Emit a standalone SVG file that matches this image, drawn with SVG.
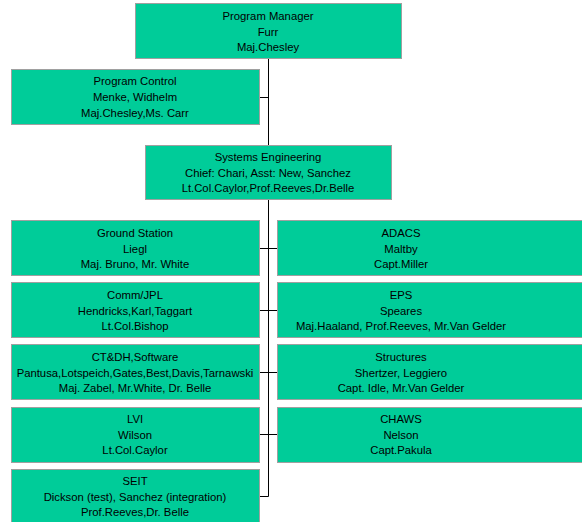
<svg xmlns="http://www.w3.org/2000/svg" width="582" height="522" viewBox="0 0 582 522">
<style>
.box{fill:#00cc99;stroke:#a0a0a0;stroke-width:1}
.t{font-family:"Liberation Sans",Arial,sans-serif;font-size:11.3px;fill:#000;text-anchor:middle}
.c{stroke:#000;stroke-width:1;fill:none}
</style>
<rect width="582" height="522" fill="#fff"/>
<g id="connectors">
<path class="c" d="M268.5 58V145M268.5 200V496.5H259M259 97.5H268.5M259 248.5H277M259 310.5H277M259 372.5H277M259 434.5H277"/>
</g>
<g id="program-manager">
<rect class="box" x="135.5" y="3.5" width="266" height="55"/>
<text class="t" x="268" y="20">Program Manager</text>
<text class="t" x="268" y="35.5">Furr</text>
<text class="t" x="268" y="51">Maj.Chesley</text>
</g>
<g id="program-control">
<rect class="box" x="11.5" y="69.5" width="248" height="55"/>
<text class="t" x="135" y="85">Program Control</text>
<text class="t" x="135" y="101">Menke, Widhelm</text>
<text class="t" x="135" y="117">Maj.Chesley,Ms. Carr</text>
</g>
<g id="systems-engineering">
<rect class="box" x="145.5" y="145.5" width="246" height="54"/>
<text class="t" x="268" y="161">Systems Engineering</text>
<text class="t" x="268" y="176.5">Chief: Chari, Asst: New, Sanchez</text>
<text class="t" x="268" y="192">Lt.Col.Caylor,Prof.Reeves,Dr.Belle</text>
</g>
<g id="ground-station">
<rect class="box" x="11.5" y="220.5" width="248" height="55"/>
<text class="t" x="135" y="237">Ground Station</text>
<text class="t" x="135" y="252.5">Liegl</text>
<text class="t" x="135" y="268">Maj. Bruno, Mr. White</text>
</g>
<g id="comm-jpl">
<rect class="box" x="11.5" y="282.5" width="248" height="55"/>
<text class="t" x="135" y="299">Comm/JPL</text>
<text class="t" x="135" y="314.5">Hendricks,Karl,Taggart</text>
<text class="t" x="135" y="330">Lt.Col.Bishop</text>
</g>
<g id="ctdh">
<rect class="box" x="11.5" y="344.5" width="248" height="55"/>
<text class="t" x="135" y="361">CT&amp;DH,Software</text>
<text class="t" x="135" y="376.5">Pantusa,Lotspeich,Gates,Best,Davis,Tarnawski</text>
<text class="t" x="135" y="392">Maj. Zabel, Mr.White, Dr. Belle</text>
</g>
<g id="lvi">
<rect class="box" x="11.5" y="407.5" width="248" height="55"/>
<text class="t" x="135" y="423">LVI</text>
<text class="t" x="135" y="438.5">Wilson</text>
<text class="t" x="135" y="454">Lt.Col.Caylor</text>
</g>
<g id="seit">
<rect class="box" x="11.5" y="469.5" width="248" height="60"/>
<text class="t" x="135" y="485">SEIT</text>
<text class="t" x="135" y="500.5">Dickson (test), Sanchez (integration)</text>
<text class="t" x="135" y="516">Prof.Reeves,Dr. Belle</text>
</g>
<g id="adacs">
<rect class="box" x="277.5" y="220.5" width="310" height="55"/>
<text class="t" x="401" y="237">ADACS</text>
<text class="t" x="401" y="252.5">Maltby</text>
<text class="t" x="401" y="268">Capt.Miller</text>
</g>
<g id="eps">
<rect class="box" x="277.5" y="282.5" width="310" height="55"/>
<text class="t" x="401" y="299">EPS</text>
<text class="t" x="401" y="314.5">Speares</text>
<text class="t" x="401" y="330">Maj.Haaland, Prof.Reeves, Mr.Van Gelder</text>
</g>
<g id="structures">
<rect class="box" x="277.5" y="344.5" width="310" height="55"/>
<text class="t" x="401" y="361">Structures</text>
<text class="t" x="401" y="376.5">Shertzer, Leggiero</text>
<text class="t" x="401" y="392">Capt. Idle, Mr.Van Gelder</text>
</g>
<g id="chaws">
<rect class="box" x="277.5" y="407.5" width="310" height="55"/>
<text class="t" x="401" y="423">CHAWS</text>
<text class="t" x="401" y="438.5">Nelson</text>
<text class="t" x="401" y="454">Capt.Pakula</text>
</g>
</svg>
